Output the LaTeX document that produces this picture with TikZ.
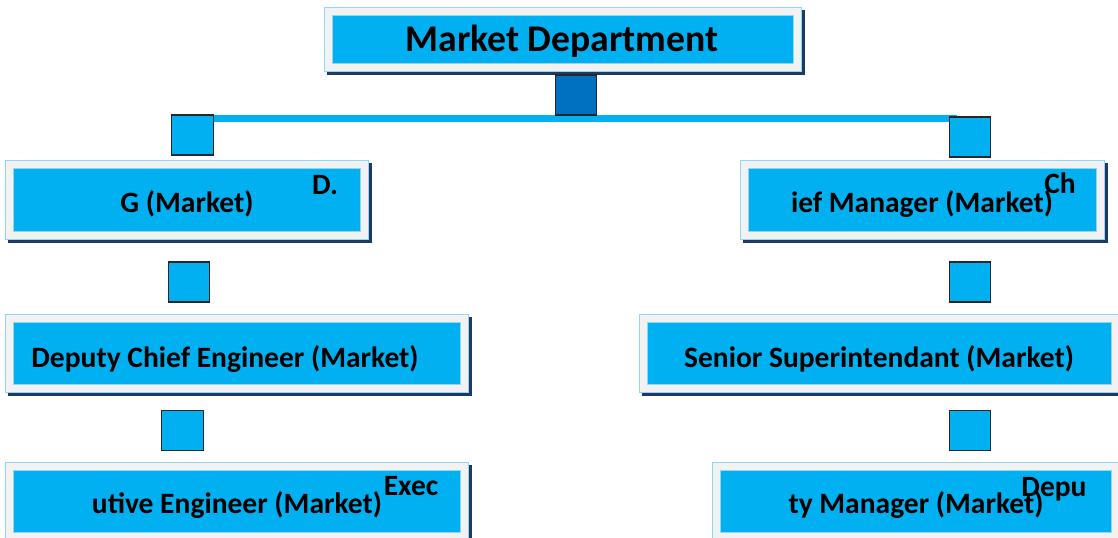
\documentclass[tikz,border=0pt]{standalone}
\usepackage{fontspec}
\setmainfont{Carlito}
\definecolor{boxcyan}{HTML}{00B0F0}
\definecolor{topblue}{HTML}{0070C0}
\definecolor{framegray}{HTML}{F2F2F2}
\definecolor{edgeblue}{HTML}{8ED8F6}
\definecolor{shadownavy}{HTML}{1F3864}
\tikzset{
  postbox/.style={fill=boxcyan, draw=edgeblue, double=framegray, line width=0.5pt,
    double distance=5.2pt, inner sep=0pt,
    preaction={draw=shadownavy, line width=6.2pt, transform canvas={shift={(2.1pt,-2.1pt)}}}},
  linkbox/.style={fill=boxcyan, draw=black!85, line width=0.8pt, minimum width=1.03cm,
    minimum height=1cm, inner sep=0pt},
  titletext/.style={anchor=base, inner sep=0pt, font=\fontsize{26.8}{32}\selectfont\bfseries},
  posttext/.style={anchor=base, inner sep=0pt, font=\fontsize{21}{25}\selectfont\bfseries}
}
\begin{document}
\begin{tikzpicture}[x=0.025cm, y=-0.025cm]
  \useasboundingbox (0,0) rectangle (1118,538);

  % Drawing the title box
  \node [postbox, minimum width=11.73cm, minimum height=1.41cm] (dept) at (563,39.5) {};%
  \node [titletext] (depttext) at (562,52) {Market Department};%

  % Drawing the posts, left column
  \node [postbox, minimum width=8.88cm, minimum height=1.78cm] (dg) at (187,200) {};%
  \node [postbox, minimum width=11.38cm, minimum height=1.76cm] (dce) at (237,353.5) {};%
  \node [postbox, minimum width=11.38cm, minimum height=1.76cm] (ee) at (237,501.5) {};%

  % Drawing the posts, right column
  \node [postbox, minimum width=8.91cm, minimum height=1.78cm] (cm) at (922.5,200) {};%
  \node [postbox, minimum width=11.81cm, minimum height=1.76cm] (ss) at (879.5,353.5) {};%
  \node [postbox, minimum width=9.98cm, minimum height=1.76cm] (dm) at (916,501.5) {};%

  % Writing the post names
  \node [posttext] (dgtext) at (187,213) {G (Market)};%
  \node [posttext] (dgpre) at (325,195) {D.};%
  \node [posttext] (dcetext) at (225,367) {Deputy Chief Engineer (Market)};%
  \node [posttext] (eetext) at (237,513) {utive Engineer (Market)};%
  \node [posttext] (eepre) at (411,495) {Exec};%
  \node [posttext] (cmtext) at (922,213) {ief Manager (Market)};%
  \node [posttext] (cmpre) at (1060,194) {Ch};%
  \node [posttext] (sstext) at (879,367) {Senior Superintendant (Market)};%
  \node [posttext] (dmtext) at (916,513) {ty Manager (Market)};%
  \node [posttext] (dmpre) at (1054,496) {Depu};%

  % Drawing the branch line
  \coordinate (hl) at (187,118.5);%
  \coordinate (hr) at (957,118.5);%
  \draw [boxcyan, line width=5pt] (hl) -- (hr);%

  % Drawing the link squares
  \node [linkbox, fill=topblue] (csq) at (576,95) {};%
  \node [linkbox] (lsqa) at (192.5,135) {};%
  \node [linkbox] (rsqa) at (970,137) {};%
  \node [linkbox] (lsqb) at (189,282) {};%
  \node [linkbox] (rsqb) at (970,282) {};%
  \node [linkbox] (lsqc) at (182.5,430.5) {};%
  \node [linkbox] (rsqc) at (970,430.5) {};%
\end{tikzpicture}
\end{document}
